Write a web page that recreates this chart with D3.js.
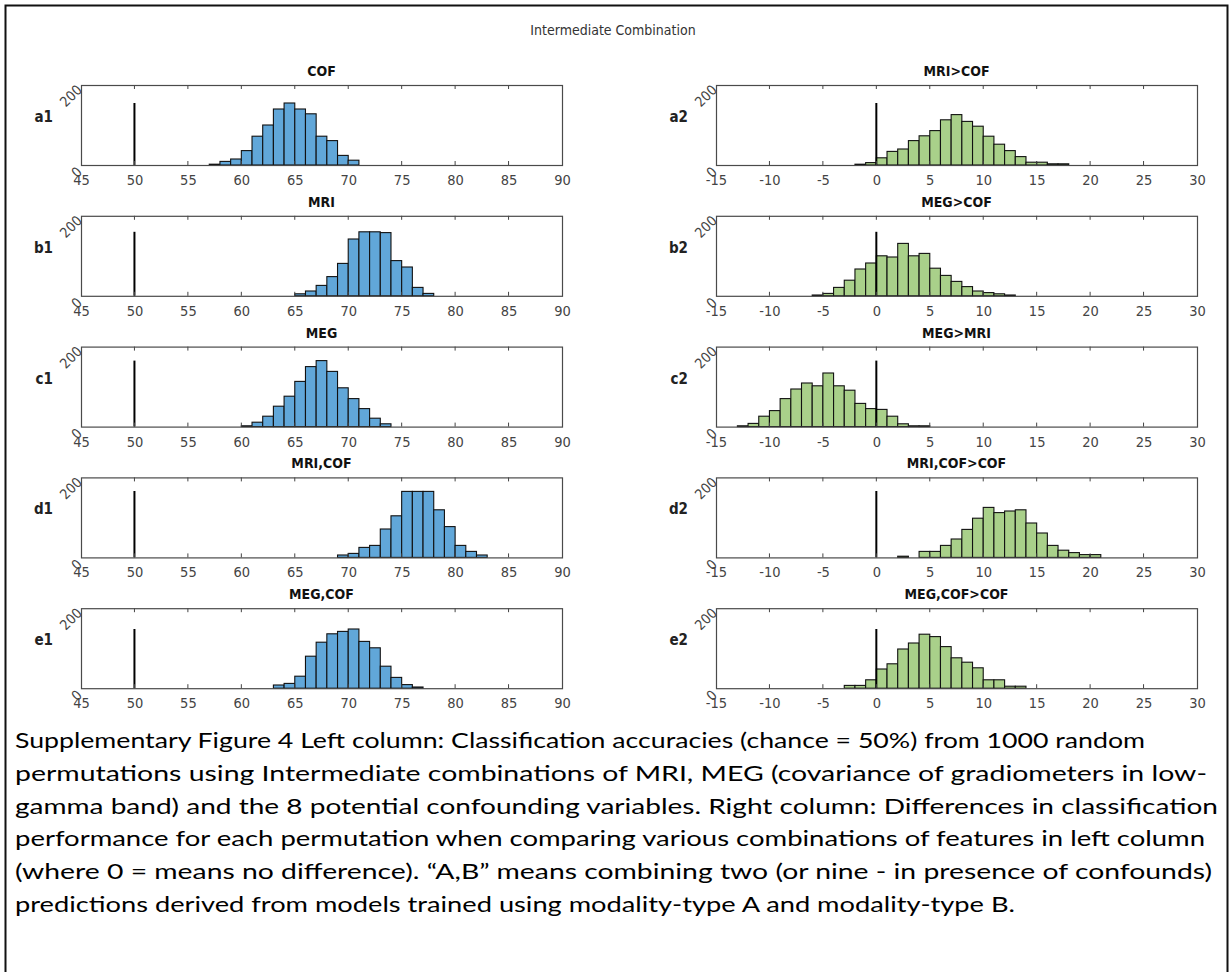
<!DOCTYPE html>
<html><head><meta charset="utf-8">
<script src="https://cdn.jsdelivr.net/npm/d3@7/dist/d3.min.js"></script>
<style>
html,body{margin:0;padding:0;background:#fff;}
svg{display:block;}
</style></head>
<body>
<svg id="chart" width="1231" height="972"></svg>
<script>
// ---------- data ----------
const figTitle = "Intermediate Combination";
const rowLetters = ["a","b","c","d","e"];
const leftTitles = ["COF","MRI","MEG","MRI,COF","MEG,COF"];
const rightTitles = ["MRI>COF","MEG>COF","MEG>MRI","MRI,COF>COF","MEG,COF>COF"];
const leftDomain = [45, 90];
const rightDomain = [-15, 30];
const leftTicks = [45,50,55,60,65,70,75,80,85,90];
const rightTicks = [-15,-10,-5,0,5,10,15,20,25,30];
const yDomain = [0, 200];
const yTickLabels = ["0","200"];
const leftRefX = 50;
const rightRefX = 0;
const refHeights = [155, 160, 165, 166, 148];

// histogram counts (1-unit bins) with first bin start
const a1Start = 57,  a1Counts = [2,9,15,36,72,100,140,155,140,128,72,61,24,12];
const a2Start = -2,  a2Counts = [2,6,18,34,40,61,73,86,113,126,109,97,72,52,36,21,7,7,3,3];
const b1Start = 65,  b1Counts = [5,12,26,48,81,142,160,160,158,88,72,21,6];
const b2Start = -6,  b2Counts = [2,6,21,39,67,82,100,97,131,100,106,69,51,36,23,12,8,5,2];
const c1Start = 60,  c1Counts = [2,11,26,51,76,113,150,165,138,97,70,45,21,7];
const c2Start = -13, c2Counts = [2,8,26,40,70,94,109,102,134,102,91,58,45,43,26,7,2,2];
const d1Start = 69,  d1Counts = [6,10,25,30,71,104,165,165,165,119,77,30,15,6];
const d2Start = 2,   d2Counts = [3,0,15,15,30,46,70,98,125,112,116,119,86,61,30,18,12,7,7];
const e1Start = 63,  e1Counts = [8,12,30,80,115,136,142,148,117,101,55,27,9,3];
const e2Start = -3,  e2Counts = [7,7,21,48,61,98,113,135,129,104,76,65,51,21,21,5,5];

const captionLines = [
  "Supplementary Figure 4 Left column: Classification accuracies (chance = 50%) from 1000 random",
  "permutations using Intermediate combinations of MRI, MEG (covariance of gradiometers in low-",
  "gamma band) and the 8 potential confounding variables. Right column: Differences in classification",
  "performance for each permutation when comparing various combinations of features in left column",
  "(where 0 = means no difference). \u201CA,B\u201D means combining two (or nine - in presence of confounds)",
  "predictions derived from models trained using modality-type A and modality-type B."
];
const captionEnds = [1145, 1207, 1218, 1205, 1212, 1015];

const leftData = [[a1Start,a1Counts],[b1Start,b1Counts],[c1Start,c1Counts],[d1Start,d1Counts],[e1Start,e1Counts]];
const rightData = [[a2Start,a2Counts],[b2Start,b2Counts],[c2Start,c2Counts],[d2Start,d2Counts],[e2Start,e2Counts]];

// ---------- layout ----------
const svg = d3.select("#chart");
const W = 1231, H = 972;
const boxLefts = [81, 716];
const boxW = 481, boxH = 80;
const top0 = 85, rowStep = 130.8;
const axisFont = "'DejaVu Sans Condensed','Liberation Sans Narrow','DejaVu Sans',sans-serif";
const colors = ["#61a7d9", "#a9d08a"];

svg.append("rect").attr("x",0).attr("y",0).attr("width",W).attr("height",H).attr("fill","#fff");
// outer frame
svg.append("rect").attr("x",5.5).attr("y",5.5).attr("width",W-9).attr("height",H+10)
  .attr("fill","none").attr("stroke","#111").attr("stroke-width",2);

svg.append("text").attr("x",613).attr("y",35).attr("text-anchor","middle")
  .attr("font-family",axisFont).attr("font-size",14).attr("fill","#333").text(figTitle);

function drawPanel(col, row, title, start, counts) {
  const x0 = boxLefts[col];
  const y0 = top0 + row*rowStep;
  const domain = col === 0 ? leftDomain : rightDomain;
  const ticks = col === 0 ? leftTicks : rightTicks;
  const refX = col === 0 ? leftRefX : rightRefX;
  const x = d3.scaleLinear().domain(domain).range([x0, x0+boxW]);
  const y = d3.scaleLinear().domain(yDomain).range([y0+boxH, y0]);
  const g = svg.append("g");

  const bins = counts.map((c,i)=>({x0:start+i, x1:start+i+1, c}));
  g.selectAll("rect.bar").data(bins.filter(d=>d.c>0)).enter().append("rect")
    .attr("class","bar")
    .attr("x", d=>x(d.x0)).attr("width", d=>x(d.x1)-x(d.x0))
    .attr("y", d=>y(d.c)).attr("height", d=>y(0)-y(d.c))
    .attr("fill", colors[col]).attr("stroke","#111").attr("stroke-width",1.1);

  // reference line
  g.append("line").attr("x1",x(refX)).attr("x2",x(refX))
    .attr("y1",y(0)).attr("y2",y(refHeights[row]))
    .attr("stroke","#000").attr("stroke-width",2);

  // bottom axis
  const axB = d3.axisBottom(x).tickValues(ticks).tickSize(0).tickPadding(0).tickFormat(d=>String(d).replace("\u2212","-"));
  const gb = g.append("g").attr("transform",`translate(0,${y0+boxH})`).call(axB);
  gb.select(".domain").remove();
  gb.selectAll("text").attr("font-family",axisFont).attr("font-size",14.5).attr("fill","#444")
    .attr("dy",null).attr("y",20);
  // inward ticks top & bottom
  const inner = ticks.slice(1,-1);
  g.selectAll("line.tb").data(inner).enter().append("line")
    .attr("x1",d=>x(d)).attr("x2",d=>x(d)).attr("y1",y0+boxH).attr("y2",y0+boxH-4)
    .attr("stroke","#444").attr("stroke-width",1);
  g.selectAll("line.tt").data(inner).enter().append("line")
    .attr("x1",d=>x(d)).attr("x2",d=>x(d)).attr("y1",y0).attr("y2",y0+4)
    .attr("stroke","#444").attr("stroke-width",1);

  // box
  g.append("rect").attr("x",x0+0.5).attr("y",y0+0.5).attr("width",boxW).attr("height",boxH)
    .attr("fill","none").attr("stroke","#4a4a4a").attr("stroke-width",1.2);

  // rotated y tick labels
  const yl = [[yDomain[0], yTickLabels[0], 5],[yDomain[1], yTickLabels[1], 3]];
  yl.forEach(([v,lab,dy])=>{
    const px = x0-1, py = y(v)+dy;
    g.append("text").attr("transform",`translate(${px},${py}) rotate(-45)`)
      .attr("text-anchor","end").attr("dominant-baseline","middle")
      .attr("font-family",axisFont).attr("font-size",14).attr("fill","#444").text(lab);
  });

  // title
  g.append("text").attr("x",x0+boxW/2).attr("y",y0-9).attr("text-anchor","middle")
    .attr("font-family",axisFont).attr("font-size",14).attr("font-weight","bold").attr("fill","#111").text(title);

  // panel label
  g.append("text").attr("x",x0-28).attr("y",y0+37).attr("text-anchor","end")
    .attr("font-family",axisFont).attr("font-size",15).attr("font-weight","bold").attr("fill","#222")
    .text(rowLetters[row] + (col+1));
}

rowLetters.forEach((r,i)=>{
  drawPanel(0, i, leftTitles[i], leftData[i][0], leftData[i][1]);
  drawPanel(1, i, rightTitles[i], rightData[i][0], rightData[i][1]);
});

// caption
const capStartX = 15, capY0 = 748, capStep = 32.8;
captionLines.forEach((t,i)=>{
  svg.append("text").attr("x",capStartX).attr("y",capY0+i*capStep)
    .attr("font-family","Lato,'Open Sans',sans-serif").attr("font-size",21.5).attr("fill","#000")
    .attr("textLength", captionEnds[i]-capStartX).attr("lengthAdjust","spacingAndGlyphs")
    .text(t);
});
</script>
</body></html>
